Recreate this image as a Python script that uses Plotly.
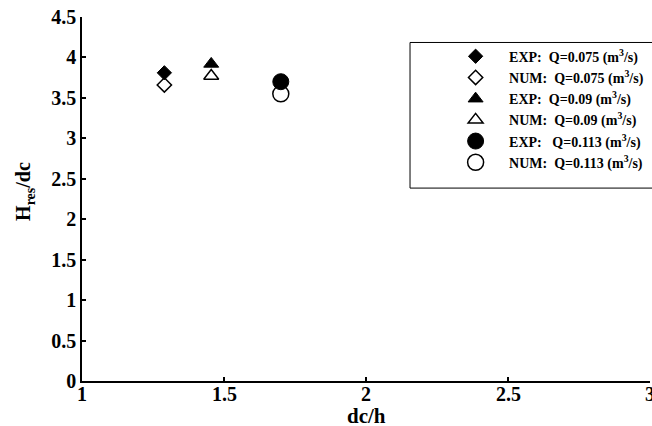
import plotly.graph_objects as go

# dc/h and Hres/dc for each discharge
dc_h = [1.29, 1.455, 1.70]
exp_hres = [3.81, 3.92, 3.70]
num_hres = [3.66, 3.77, 3.55]
labels_exp = ["EXP:  Q=0.075 (m<sup>3</sup>/s)", "EXP:  Q=0.09 (m<sup>3</sup>/s)", "EXP:   Q=0.113 (m<sup>3</sup>/s)"]
labels_num = ["NUM:  Q=0.075 (m<sup>3</sup>/s)", "NUM:  Q=0.09 (m<sup>3</sup>/s)", "NUM:  Q=0.113 (m<sup>3</sup>/s)"]
symbols = ["diamond", "triangle-up", "circle"]
sizes = [11, 13, 16]

x_ticks = [1, 1.5, 2, 2.5, 3]
y_ticks = [0, 0.5, 1, 1.5, 2, 2.5, 3, 3.5, 4, 4.5]

FONT = "Liberation Serif"
TICKFONT = dict(family=FONT, size=20, color="black", weight="bold")

fig = go.Figure()
for i in range(3):
    fig.add_trace(go.Scatter(
        x=[dc_h[i]], y=[exp_hres[i]], mode="markers", name=labels_exp[i],
        marker=dict(symbol=symbols[i], size=sizes[i], color="black",
                    line=dict(color="black", width=1)),
    ))
    fig.add_trace(go.Scatter(
        x=[dc_h[i]], y=[num_hres[i]], mode="markers", name=labels_num[i],
        marker=dict(symbol=symbols[i] + "-open", size=sizes[i], color="black",
                    line=dict(color="black", width=1.5)),
    ))

# the last x tick label sits on the page edge, so it is written as an annotation
x_tick_annots = [
    dict(text=f"{v:g}", xref="x", yref="paper", x=v, y=0, yshift=0,
         xanchor="center", yanchor="top", showarrow=False, font=TICKFONT)
    for v in x_ticks
]

fig.update_layout(
    width=652, height=426,
    margin=dict(l=82, r=2, t=17, b=45),
    paper_bgcolor="white", plot_bgcolor="white",
    font=dict(family=FONT, color="black"),
    showlegend=True,
    legend=dict(
        x=0.634, y=0.935, xanchor="left", yanchor="top",
        bgcolor="rgba(0,0,0,0)", borderwidth=0,
        font=dict(family=FONT, size=14, color="black", weight="bold"),
        itemwidth=57, tracegroupgap=0,
    ),
    xaxis=dict(
        range=[1, 3], tickvals=x_ticks, showticklabels=False,
        showgrid=False, zeroline=False, showline=True, linecolor="black", linewidth=1.5,
        ticks="inside", ticklen=4, tickwidth=1.5, tickcolor="black",
    ),
    yaxis=dict(
        range=[0, 4.5], tickvals=y_ticks, ticktext=[f"{v:g}" for v in y_ticks],
        showgrid=False, zeroline=False, showline=True, linecolor="black", linewidth=1.5,
        ticks="inside", ticklen=4, tickwidth=1.5, tickcolor="black",
        tickfont=TICKFONT,
    ),
    shapes=[dict(type="rect", xref="paper", yref="paper",
                 x0=0.5775, x1=1.01, y0=0.53, y1=0.93,
                 line=dict(color="black", width=1), fillcolor="rgba(0,0,0,0)")],
    annotations=x_tick_annots + [
        dict(text="dc/h", xref="paper", yref="paper", x=0.5, y=-0.096,
             xanchor="center", yanchor="middle", showarrow=False,
             font=dict(family=FONT, size=21, color="black", weight="bold")),
        dict(text="H<sub>res</sub>/dc", xref="paper", yref="paper", x=-0.1,
             y=0.52, xanchor="center", yanchor="middle", textangle=-90, showarrow=False,
             font=dict(family=FONT, size=20, color="black", weight="bold")),
    ],
)

fig.write_html("out.html")
